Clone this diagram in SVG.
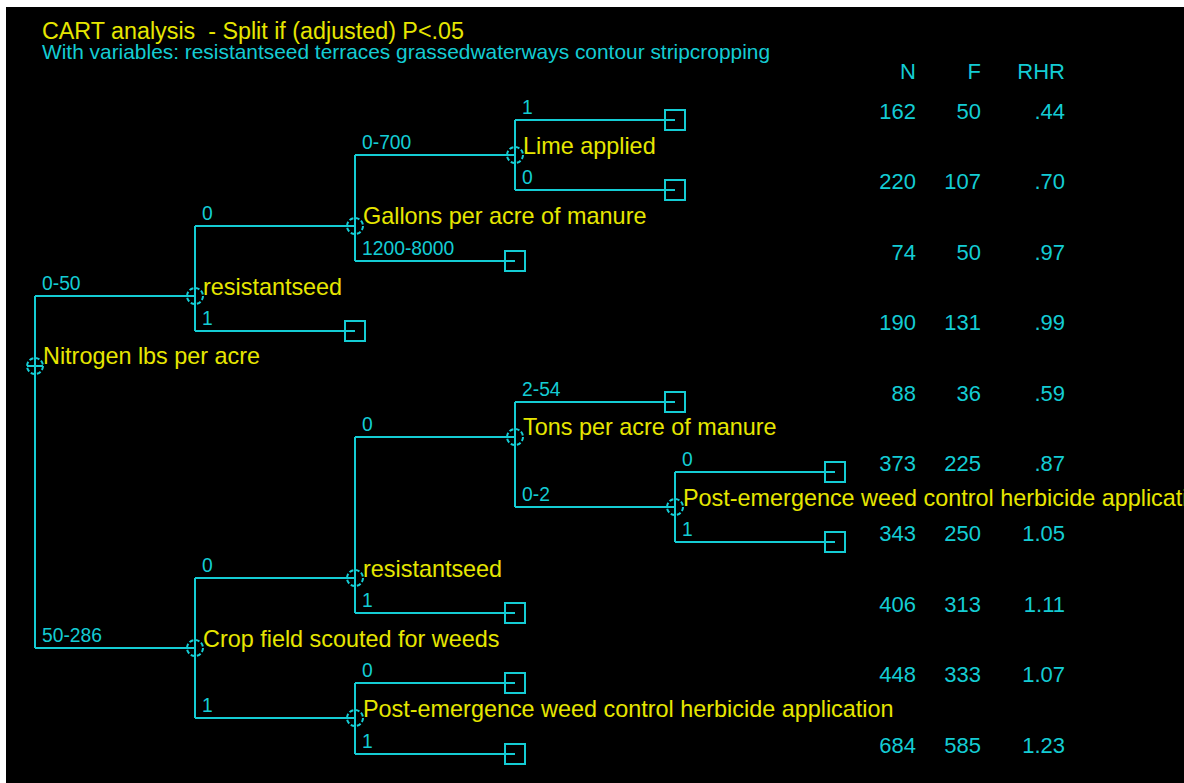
<svg xmlns="http://www.w3.org/2000/svg" width="1184" height="783" viewBox="0 0 1184 783">
<style>
text{font-family:"Liberation Sans",Arial,sans-serif}
.t{fill:#e6e600;font-size:23.3px}
.s{fill:#14ccd4;font-size:20.9px}
.n{fill:#e6e600;font-size:23.4px}
.e{fill:#14ccd4;font-size:19.3px}
.v{fill:#14ccd4;font-size:22px;text-anchor:end}
.ln{stroke:#14ccd4;stroke-width:2;fill:none}
.nd{stroke:#14ccd4;stroke-width:2;fill:none;stroke-dasharray:4.3 2}
.lf{stroke:#14ccd4;stroke-width:2;fill:none}
</style>
<rect x="0" y="0" width="1184" height="783" fill="#fff"/>
<rect x="6" y="7" width="1178" height="776" fill="#000"/>
<g id="title">
<text class="t" x="42" y="39" xml:space="preserve">CART analysis  - Split if (adjusted) P&lt;.05</text>
<text class="s" x="42" y="59">With variables: resistantseed terraces grassedwaterways contour stripcropping</text>
</g>
<g id="connectors" class="ln">
<path d="M35 296V648M35 296H195M35 648H195"/>
<path d="M195 226V331M195 226H355M195 331H355"/>
<path d="M355 155V261M355 155H515M355 261H515"/>
<path d="M515 120V190M515 120H675M515 190H675"/>
<path d="M195 578V718M195 578H355M195 718H355"/>
<path d="M355 437V613M355 437H515M355 613H515"/>
<path d="M515 402V507M515 402H675M515 507H675"/>
<path d="M675 472V542M675 472H835M675 542H835"/>
<path d="M355 683V754M355 683H515M355 754H515"/>
</g>
<g id="edge-labels" class="e">
<text x="42" y="290">0-50</text>
<text x="42" y="642">50-286</text>
<text x="202" y="220">0</text>
<text x="202" y="325">1</text>
<text x="362" y="149">0-700</text>
<text x="362" y="255">1200-8000</text>
<text x="522" y="114">1</text>
<text x="522" y="184">0</text>
<text x="202" y="572">0</text>
<text x="202" y="712">1</text>
<text x="362" y="431">0</text>
<text x="362" y="607">1</text>
<text x="522" y="396">2-54</text>
<text x="522" y="501">0-2</text>
<text x="682" y="466">0</text>
<text x="682" y="536">1</text>
<text x="362" y="677">0</text>
<text x="362" y="748">1</text>
</g>
<g id="node-root"><circle class="nd" cx="35" cy="366" r="8"/><path class="ln" d="M27 366H43"/><text class="n" x="43" y="364">Nitrogen lbs per acre</text></g>
<g id="node-resistantseed-1"><circle class="nd" cx="195" cy="296" r="8"/><text class="n" x="203" y="295">resistantseed</text></g>
<g id="node-gallons"><circle class="nd" cx="355" cy="226" r="8"/><text class="n" x="363" y="224">Gallons per acre of manure</text></g>
<g id="node-lime"><circle class="nd" cx="515" cy="155" r="8"/><text class="n" x="523" y="154">Lime applied</text></g>
<g id="node-cropfield"><circle class="nd" cx="195" cy="648" r="8"/><text class="n" x="203" y="647">Crop field scouted for weeds</text></g>
<g id="node-resistantseed-2"><circle class="nd" cx="355" cy="578" r="8"/><text class="n" x="363" y="577">resistantseed</text></g>
<g id="node-tons"><circle class="nd" cx="515" cy="437" r="8"/><text class="n" x="523" y="435">Tons per acre of manure</text></g>
<g id="node-post-1"><circle class="nd" cx="675" cy="507" r="8"/><text class="n" x="683" y="506">Post-emergence weed control herbicide application</text></g>
<g id="node-post-2"><circle class="nd" cx="355" cy="718" r="8"/><text class="n" x="363" y="717">Post-emergence weed control herbicide application</text></g>
<g id="leaves" class="lf">
<rect id="leaf-1" x="665" y="110" width="20" height="20"/>
<rect id="leaf-2" x="665" y="180" width="20" height="20"/>
<rect id="leaf-3" x="505" y="251" width="20" height="20"/>
<rect id="leaf-4" x="345" y="321" width="20" height="20"/>
<rect id="leaf-5" x="665" y="392" width="20" height="20"/>
<rect id="leaf-6" x="825" y="462" width="20" height="20"/>
<rect id="leaf-7" x="825" y="532" width="20" height="20"/>
<rect id="leaf-8" x="505" y="603" width="20" height="20"/>
<rect id="leaf-9" x="505" y="673" width="20" height="20"/>
<rect id="leaf-10" x="505" y="744" width="20" height="20"/>
</g>
<g id="table" class="v">
<text x="916" y="79">N</text><text x="981" y="79">F</text><text x="1065" y="79">RHR</text>
<text x="916" y="119">162</text><text x="981" y="119">50</text><text x="1065" y="119">.44</text>
<text x="916" y="189">220</text><text x="981" y="189">107</text><text x="1065" y="189">.70</text>
<text x="916" y="260">74</text><text x="981" y="260">50</text><text x="1065" y="260">.97</text>
<text x="916" y="330">190</text><text x="981" y="330">131</text><text x="1065" y="330">.99</text>
<text x="916" y="401">88</text><text x="981" y="401">36</text><text x="1065" y="401">.59</text>
<text x="916" y="471">373</text><text x="981" y="471">225</text><text x="1065" y="471">.87</text>
<text x="916" y="541">343</text><text x="981" y="541">250</text><text x="1065" y="541">1.05</text>
<text x="916" y="612">406</text><text x="981" y="612">313</text><text x="1065" y="612">1.11</text>
<text x="916" y="682">448</text><text x="981" y="682">333</text><text x="1065" y="682">1.07</text>
<text x="916" y="753">684</text><text x="981" y="753">585</text><text x="1065" y="753">1.23</text>
</g>
</svg>
